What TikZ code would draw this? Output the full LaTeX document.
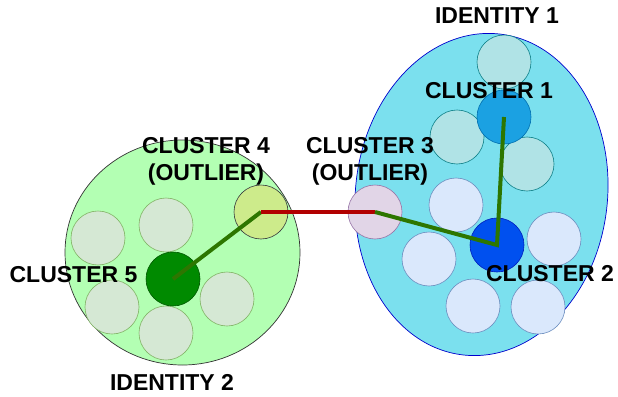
\documentclass[tikz,border=0pt]{standalone}
\usepackage{fontspec}
\setmainfont{Liberation Sans}
\usetikzlibrary{shapes.geometric}

\definecolor{idonefill}{HTML}{7BE0EE}
\definecolor{idonedraw}{HTML}{0000CC}
\definecolor{idtwofill}{HTML}{B3FFB3}
\definecolor{idtwodraw}{HTML}{333333}
\definecolor{tealfill}{HTML}{B0E3E6}
\definecolor{tealdraw}{HTML}{0E8088}
\definecolor{bluefill}{HTML}{DAE8FC}
\definecolor{bluedraw}{HTML}{6C8EBF}
\definecolor{greenfill}{HTML}{D5E8D4}
\definecolor{greendraw}{HTML}{82B366}
\definecolor{conefill}{HTML}{1BA1E2}
\definecolor{conedraw}{HTML}{006EAF}
\definecolor{ctwofill}{HTML}{0050EF}
\definecolor{ctwodraw}{HTML}{001DBC}
\definecolor{cthreefill}{HTML}{E1D5E7}
\definecolor{cthreedraw}{HTML}{9673A6}
\definecolor{cfourfill}{HTML}{CDEB8B}
\definecolor{cfourdraw}{HTML}{36393D}
\definecolor{cfivefill}{HTML}{008A00}
\definecolor{cfivedraw}{HTML}{005700}
\definecolor{linkred}{HTML}{B20000}
\definecolor{linkgreen}{HTML}{2D7600}

\tikzset{
  member/.style={circle, draw, line width=0.6pt, minimum size=54pt, inner sep=0pt},
  tag/.style={anchor=base, inner sep=0pt, align=center, font=\fontsize{23}{27}\selectfont\bfseries},
  link/.style={line width=4pt}
}

\begin{document}
\begin{tikzpicture}[x=1pt, y=-1pt]
  \useasboundingbox (0,0) rectangle (618,396);

  % Identities
  \node[ellipse, draw=idonedraw, fill=idonefill, line width=0.7pt, minimum width=252pt, minimum height=323pt, rotate=-6.6] (id1) at (481.5,194.5) {};
  \node[ellipse, draw=idtwodraw, fill=idtwofill, line width=0.7pt, minimum width=235pt, minimum height=225pt] (id2) at (182.5,252.5) {};

  % Identity 1 members
  \node[member, draw=tealdraw, fill=tealfill] (t1) at (504,62) {};
  \node[member, draw=tealdraw, fill=tealfill] (t2) at (457,137) {};
  \node[member, draw=tealdraw, fill=tealfill] (t3) at (527,164) {};
  \node[member, draw=conedraw, fill=conefill] (c1) at (504,117) {};
  \node[member, draw=bluedraw, fill=bluefill] (b1) at (456,205) {};
  \node[member, draw=bluedraw, fill=bluefill] (b2) at (554,239) {};
  \node[member, draw=bluedraw, fill=bluefill] (b3) at (429,259) {};
  \node[member, draw=bluedraw, fill=bluefill] (b4) at (473,306) {};
  \node[member, draw=bluedraw, fill=bluefill] (b5) at (538,307) {};
  \node[member, draw=ctwodraw, fill=ctwofill] (c2) at (497,245) {};
  \node[member, draw=cthreedraw, fill=cthreefill] (c3) at (375,212) {};

  % Identity 2 members
  \node[member, draw=greendraw, fill=greenfill] (g1) at (98,238) {};
  \node[member, draw=greendraw, fill=greenfill] (g2) at (166,225) {};
  \node[member, draw=greendraw, fill=greenfill] (g3) at (112,307) {};
  \node[member, draw=greendraw, fill=greenfill] (g4) at (227,299) {};
  \node[member, draw=greendraw, fill=greenfill] (g5) at (166,333) {};
  \node[member, draw=cfourdraw, fill=cfourfill] (c4) at (261,212) {};
  \node[member, draw=cfivedraw, fill=cfivefill] (c5) at (173,279) {};

  % Links
  \draw[link, linkgreen] (c5.center) -- (c4.center);
  \draw[link, linkred] (c4.center) -- (c3.center);
  \draw[link, linkgreen] (c3.center) -- (c2.center) -- (c1.center);

  % Labels
  \node[tag] (lid1) at (497,24) {IDENTITY 1};
  \node[tag] (lc1) at (489,98) {CLUSTER 1};
  \node[tag] (lc3) at (370,180) {CLUSTER 3\\(OUTLIER)};
  \node[tag] (lc4) at (206,180) {CLUSTER 4\\(OUTLIER)};
  \node[tag] (lc5) at (73.5,282) {CLUSTER 5};
  \node[tag] (lc2) at (550,281) {CLUSTER 2};
  \node[tag] (lid2) at (172,390) {IDENTITY 2};
\end{tikzpicture}
\end{document}
